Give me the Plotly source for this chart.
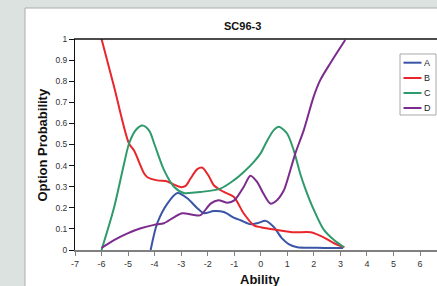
import plotly.graph_objects as go

# ---- data ----
a_x = [-4.15, -3.9, -3.52, -3.14, -2.77, -2.39, -2.14, -1.77, -1.39, -1.0, -0.76, -0.38, -0.1, 0.18, 0.49, 0.8, 1.05, 1.38, 1.8, 2.4, 3.1]
a_y = [0.0, 0.127, 0.22, 0.27, 0.245, 0.198, 0.174, 0.185, 0.18, 0.152, 0.141, 0.122, 0.128, 0.138, 0.109, 0.055, 0.028, 0.013, 0.011, 0.01, 0.01]

b_x = [-6.0, -5.53, -4.97, -4.77, -4.4, -4.27, -3.9, -3.52, -3.27, -3.02, -2.83, -2.64, -2.39, -2.2, -1.95, -1.77, -1.39, -1.02, -0.64, -0.26, 0.0, 0.63, 1.26, 1.88, 2.38, 2.76, 3.15]
b_y = [1.0, 0.775, 0.506, 0.47, 0.364, 0.345, 0.33, 0.325, 0.31, 0.298, 0.304, 0.34, 0.383, 0.39, 0.348, 0.307, 0.275, 0.252, 0.173, 0.117, 0.108, 0.095, 0.084, 0.084, 0.059, 0.032, 0.013]

c_x = [-6.0, -5.53, -5.15, -4.96, -4.7, -4.46, -4.2, -4.02, -3.65, -3.27, -2.9, -2.5, -2.27, -1.52, -1.02, -0.64, -0.26, 0.0, 0.19, 0.49, 0.68, 0.99, 1.24, 1.49, 1.68, 2.0, 2.38, 2.76, 3.13]
c_y = [0.0, 0.2, 0.41, 0.506, 0.57, 0.59, 0.565, 0.506, 0.38, 0.3, 0.27, 0.272, 0.275, 0.291, 0.33, 0.37, 0.418, 0.459, 0.506, 0.568, 0.584, 0.552, 0.473, 0.36, 0.29, 0.19, 0.095, 0.047, 0.013]

d_x = [-6.0, -5.53, -5.02, -4.52, -4.02, -3.65, -3.27, -2.96, -2.52, -2.27, -1.89, -1.6, -1.25, -1.0, -0.64, -0.39, -0.14, 0.11, 0.36, 0.6, 0.87, 1.0, 1.3, 1.62, 1.99, 2.24, 2.62, 3.18]
d_y = [0.01, 0.047, 0.079, 0.103, 0.119, 0.127, 0.155, 0.174, 0.166, 0.165, 0.22, 0.236, 0.224, 0.235, 0.30, 0.352, 0.323, 0.265, 0.22, 0.235, 0.283, 0.33, 0.457, 0.568, 0.726, 0.805, 0.885, 0.995]

series_names = ["A", "B", "C", "D"]
series_colors = ["#3a55a6", "#e8262b", "#2f9a6c", "#7b2c8c"]
x_ticks = list(range(-7, 7))
x_tick_labels = [str(v) for v in x_ticks]  # plain hyphen-minus as in the reference
y_ticks = [round(i * 0.1, 1) for i in range(11)]
y_tick_labels = ["0" if v == 0 else ("1" if v == 1 else f"{v:.1f}") for v in y_ticks]

FONT = "Liberation Sans, Arial, sans-serif"

fig = go.Figure()
for name, xs, ys, col in zip(series_names, [a_x, b_x, c_x, d_x], [a_y, b_y, c_y, d_y], series_colors):
    fig.add_trace(go.Scatter(x=xs, y=ys, name=name, mode="lines", showlegend=False,
                             line=dict(color=col, width=2, shape="spline", smoothing=0.8)))

W, H = 437, 286
L, R, T, B = 75, 0, 39, 36
pw, ph = W - L - R, H - T - B

def px_x(p):
    return (p - L) / pw

def px_y(p):
    return (H - B - p) / ph

shapes = [
    dict(type="rect", xref="paper", yref="paper", x0=px_x(25), x1=px_x(440), y0=px_y(290), y1=px_y(8),
         fillcolor="white", line=dict(color="#a8aeab", width=1), layer="below"),
    dict(type="line", xref="paper", yref="paper", x0=px_x(74), x1=1.01, y0=1, y1=1,
         line=dict(color="#111111", width=1.5)),
    # legend box
    dict(type="rect", xref="paper", yref="paper", x0=px_x(400), x1=px_x(436), y0=px_y(115), y1=px_y(54),
         fillcolor="white", line=dict(color="#a8a8a8", width=1)),
]
annotations = [
    dict(text="<b>SC96-3</b>", xref="paper", yref="paper", x=px_x(242), y=px_y(26),
         showarrow=False, font=dict(size=11, color="#111111"), xanchor="center", yanchor="middle"),
    dict(text="<b>Ability</b>", xref="paper", yref="paper", x=px_x(260), y=px_y(279.5),
         showarrow=False, font=dict(size=13, color="#111111"), xanchor="center", yanchor="middle"),
    dict(text="<b>Option Probability</b>", xref="paper", yref="paper", x=px_x(42), y=px_y(145.5),
         showarrow=False, textangle=-90, font=dict(size=13, color="#111111"), xanchor="center", yanchor="middle"),
]
leg_rows = [62.7, 78, 93, 108]
for name, col, yy in zip(series_names, series_colors, leg_rows):
    shapes.append(dict(type="line", xref="paper", yref="paper", x0=px_x(403.5), x1=px_x(421.5),
                       y0=px_y(yy), y1=px_y(yy), line=dict(color=col, width=2)))
    annotations.append(dict(text=name, xref="paper", yref="paper", x=px_x(421.5), y=px_y(yy),
                            showarrow=False, xanchor="left", yanchor="middle",
                            font=dict(size=9, color="#222222")))

fig.update_layout(
    width=W, height=H,
    margin=dict(l=L, r=R, t=T, b=B, autoexpand=False),
    paper_bgcolor="#dce2df",
    plot_bgcolor="white",
    font=dict(family=FONT, size=9, color="#333333"),
    showlegend=False,
    xaxis=dict(range=[-7, 6.64], tickvals=x_ticks, ticktext=x_tick_labels, showgrid=False, zeroline=False,
               automargin=False, showline=True, linecolor="#808080", linewidth=2,
               ticks="outside", ticklen=4, tickcolor="#808080", tickwidth=1,
               tickfont=dict(size=9, color="#333333")),
    yaxis=dict(range=[0, 1], tickvals=y_ticks, ticktext=y_tick_labels, showgrid=False, zeroline=False,
               automargin=False, showline=True, linecolor="#111111", linewidth=1,
               ticks="outside", ticklen=5, tickcolor="#111111", tickwidth=1,
               tickfont=dict(size=8.5, color="#333333")),
    shapes=shapes,
    annotations=annotations,
)

fig.write_html("out.html", config={"displayModeBar": False},
               post_script="document.body.style.margin='0';document.body.style.overflow='hidden';")
